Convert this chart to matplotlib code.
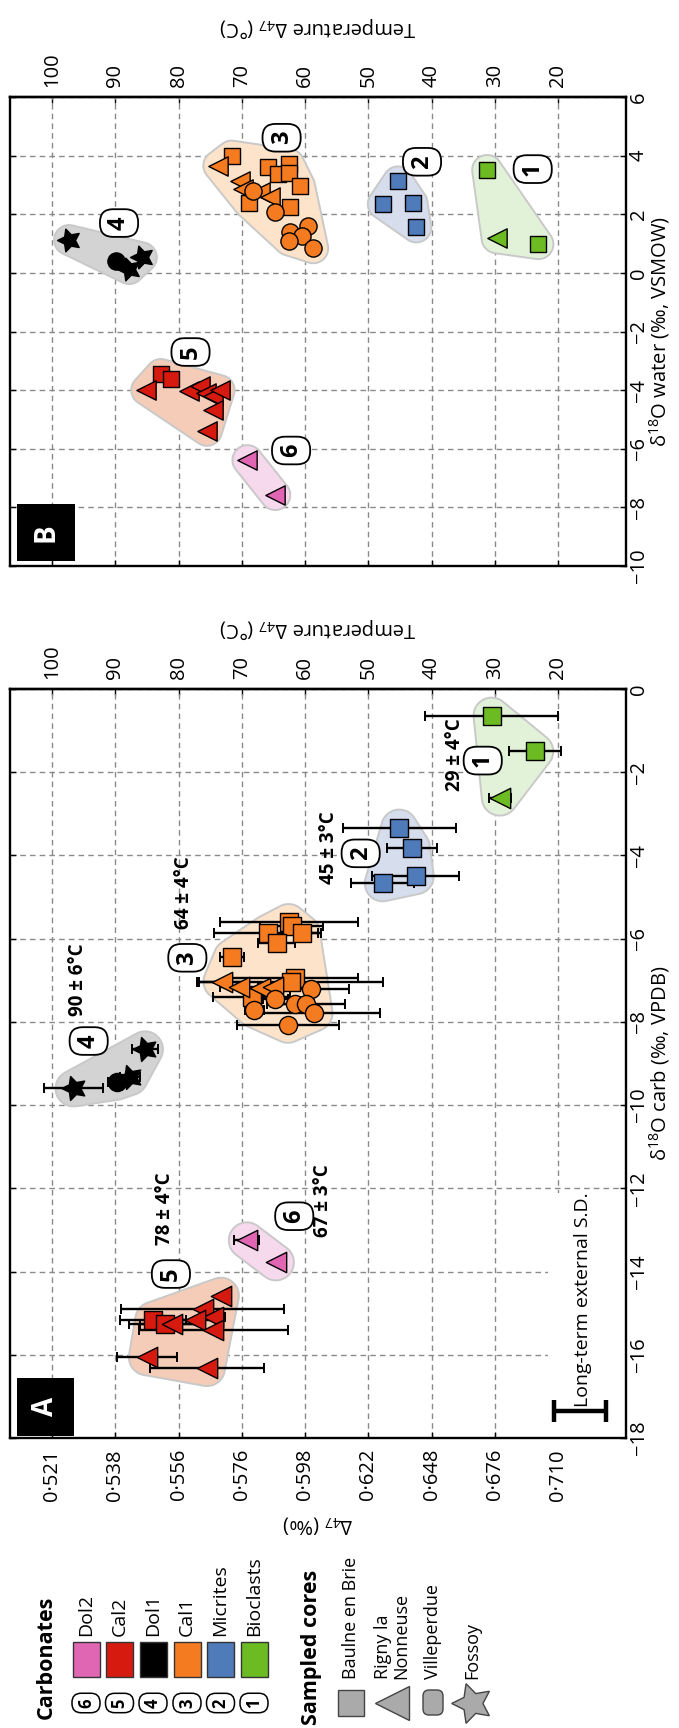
import numpy as np
import matplotlib
matplotlib.use('Agg')
import matplotlib.pyplot as plt
from matplotlib.patches import Polygon, Rectangle, FancyBboxPatch

plt.rcParams['font.family'] = ['Open Sans', 'DejaVu Sans']
plt.rcParams['mathtext.fontset'] = 'custom'
plt.rcParams['mathtext.rm'] = 'Open Sans'
plt.rcParams['mathtext.it'] = 'Open Sans:italic'
plt.rcParams['mathtext.bf'] = 'Open Sans:bold'

# ---- panel A : temperature vs d18O carb (with temperature error) ----
# group: 1 Bioclasts, 2 Micrites, 3 Cal1, 4 Dol1, 5 Cal2, 6 Dol2
# core : B Baulne en Brie, R Rigny la Nonneuse, V Villeperdue, F Fossoy
a_temp = [30.5, 23.6, 29.2,
          45.1, 43.1, 42.5, 47.7,
          62.6, 62.1, 65.9, 60.5, 64.5, 71.6, 61.6, 62.2, 68.4,
          73.2, 70.4, 67.1, 65.0,
          59.1, 64.7, 68.0, 61.6, 59.8, 58.5, 62.7,
          96.6, 87.7, 85.3, 89.8,
          84.0, 82.1, 73.3, 76.2, 74.5, 77.4, 81.1, 74.5, 85.0, 75.5,
          69.2, 64.6]
a_d18o = [-0.64, -1.50, -2.61,
          -3.33, -3.81, -4.50, -4.67,
          -5.60, -5.70, -5.86, -5.86, -6.10, -6.45, -6.95, -7.05, -7.41,
          -7.03, -7.15, -7.19, -7.15,
          -7.20, -7.45, -7.71, -7.57, -7.57, -7.79, -8.07,
          -9.60, -9.33, -8.66, -9.44,
          -15.16, -15.26, -14.58, -14.90, -15.10, -15.16, -15.26, -15.41, -16.06, -16.32,
          -13.25, -13.78]
a_err = [10.5, 4.1, 1.7,
         8.9, 4.0, 6.9, 5.0,
         10.9, 5.0, 8.5, 2.5, 2.9, 1.9, 9.9, 14.6, 6.1,
         3.8, 3.0, 2.0, 2.0,
         6.0, 2.0, 1.5, 3.0, 6.2, 10.3, 8.0,
         4.7, 1.6, 2.1, 1.3,
         5.2, 5.8, 0.0, 12.9, 1.8, 3.4, 5.0, 11.8, 4.7, 9.0,
         2.0, 0.0]
a_group = [1, 1, 1,
           2, 2, 2, 2,
           3, 3, 3, 3, 3, 3, 3, 3, 3,
           3, 3, 3, 3,
           3, 3, 3, 3, 3, 3, 3,
           4, 4, 4, 4,
           5, 5, 5, 5, 5, 5, 5, 5, 5, 5,
           6, 6]
a_core = ['B', 'B', 'R',
          'B', 'B', 'B', 'B',
          'B', 'B', 'B', 'B', 'B', 'B', 'B', 'B', 'B',
          'R', 'R', 'R', 'R',
          'V', 'V', 'V', 'V', 'V', 'V', 'V',
          'F', 'F', 'F', 'V',
          'B', 'B', 'R', 'R', 'R', 'R', 'R', 'R', 'R', 'R',
          'R', 'R']

# ---- panel B : temperature vs d18O water ----
b_temp = [31.2, 23.1, 29.7,
          45.3, 47.7, 43.0, 42.4,
          71.6, 65.9, 62.5, 64.3, 62.5, 60.8, 68.9, 62.4,
          73.7, 70.3, 69.8, 67.1, 65.5,
          68.3, 64.7, 62.4, 59.6, 60.4, 62.5, 58.7,
          97.3, 87.8, 85.8, 89.9,
          82.8, 81.2, 85.1, 78.4, 76.6, 75.7, 74.5, 73.5, 74.6, 75.5,
          69.1, 64.7]
b_d18o = [3.51, 0.98, 1.18,
          3.12, 2.35, 2.38, 1.55,
          4.00, 3.60, 3.71, 3.37, 3.40, 2.97, 2.37, 2.26,
          3.66, 3.14, 2.86, 2.77, 2.58,
          2.78, 2.06, 1.38, 1.59, 1.25, 1.10, 0.84,
          1.12, 0.13, 0.53, 0.39,
          -3.45, -3.62, -4.00, -4.02, -3.85, -4.11, -4.19, -4.00, -4.68, -5.39,
          -6.39, -7.58]
b_group = [1, 1, 1,
           2, 2, 2, 2,
           3, 3, 3, 3, 3, 3, 3, 3,
           3, 3, 3, 3, 3,
           3, 3, 3, 3, 3, 3, 3,
           4, 4, 4, 4,
           5, 5, 5, 5, 5, 5, 5, 5, 5, 5,
           6, 6]
b_core = ['B', 'B', 'R',
          'B', 'B', 'B', 'B',
          'B', 'B', 'B', 'B', 'B', 'B', 'B', 'B',
          'R', 'R', 'R', 'R', 'R',
          'V', 'V', 'V', 'V', 'V', 'V', 'V',
          'F', 'F', 'F', 'V',
          'B', 'B', 'R', 'R', 'R', 'R', 'R', 'R', 'R', 'R',
          'R', 'R']

temp_ticks = [100, 90, 80, 70, 60, 50, 40, 30, 20]
d47_labels = ['0\u00b7521', '0\u00b7538', '0\u00b7556', '0\u00b7576', '0\u00b7598',
              '0\u00b7622', '0\u00b7648', '0\u00b7676', '0\u00b7710']
a_d18o_ticks = [-18, -16, -14, -12, -10, -8, -6, -4, -2, 0]
b_d18o_ticks = [-10, -8, -6, -4, -2, 0, 2, 4, 6]

group_nums = ['1', '2', '3', '4', '5', '6']
group_names = ['Bioclasts', 'Micrites', 'Cal1', 'Dol1', 'Cal2', 'Dol2']
group_colors = ['#6cbb23', '#4f7bba', '#f47b20', '#000000', '#d71a10', '#e066b4']
group_fills = ['#e2f2d8', '#d6ddec', '#fce3c9', '#d3d3d3', '#f4ccb8', '#f6d9ec']
core_codes = ['B', 'R', 'V', 'F']
core_names = ['Baulne en Brie', 'Rigny la\nNonneuse', 'Villeperdue', 'Fossoy']

# group mean temperatures written on panel A
a_mean_txt = ['29 \u00b1 4\u00b0C', '45 \u00b1 3\u00b0C', '64 \u00b1 4\u00b0C',
              '90 \u00b1 6\u00b0C', '78 \u00b1 4\u00b0C', '67 \u00b1 3\u00b0C']

# where the labels sit (layout)
a_num_pos = [(31.9, -1.72), (51.2, -3.95), (78.6, -6.46), (94.2, -8.46), (81.2, -14.06), (61.7, -12.67)]
a_mean_pos = [(36.3, -1.57), (56.2, -3.81), (79.1, -4.90), (95.9, -6.98), (82.2, -12.50), (57.2, -12.29)]
b_num_pos = [(24.0, 3.54), (41.5, 3.79), (63.7, 4.61), (89.4, 1.70), (78.1, -2.70), (62.2, -6.06)]

sd_temp, sd_d18o, sd_half = 16.5, -17.35, 4.1

markers = {'B': 's', 'R': '<', 'V': 'o', 'F': (5, 1, 90)}
msizes = {'B': 150, 'R': 215, 'V': 170, 'F': 330}

FS = 14.5

W, H = 679, 1728
fig = plt.figure(figsize=(W / 100, H / 100), dpi=100)
axA = fig.add_axes([10 / W, 1 - 1438 / H, 616 / W, 749 / H])
axB = fig.add_axes([10 / W, 1 - 566 / H, 616 / W, 469 / H])

xlim = (106.64, 9.25)


def convex_hull(points):
    pts = sorted(set(map(tuple, np.round(points, 3))))

    def cross(o, a, b):
        return (a[0] - o[0]) * (b[1] - o[1]) - (a[1] - o[1]) * (b[0] - o[0])
    lower, upper = [], []
    for p in pts:
        while len(lower) >= 2 and cross(lower[-2], lower[-1], p) <= 0:
            lower.pop()
        lower.append(p)
    for p in reversed(pts):
        while len(upper) >= 2 and cross(upper[-2], upper[-1], p) <= 0:
            upper.pop()
        upper.append(p)
    return np.array(lower[:-1] + upper[:-1])


def blob(ax, t, d, color, r):
    pix = ax.transData.transform(np.column_stack([t, d]))
    ang = np.linspace(0, 2 * np.pi, 48, endpoint=False)
    circ = np.column_stack([np.cos(ang), np.sin(ang)]) * r
    cloud = (pix[:, None, :] + circ[None, :, :]).reshape(-1, 2)
    hull = ax.transData.inverted().transform(convex_hull(cloud))
    ax.add_patch(Polygon(hull, closed=True, fc=color, ec='#c9c9c9', lw=1.4, zorder=1))


def setup(ax, yticks, ylim, ylabel, bottom_labels, top_pad):
    ax.set_xlim(*xlim)
    ax.set_ylim(*ylim)
    ax.set_axisbelow(True)
    ax.grid(True, ls=(0, (4, 3)), color='#8a8a8a', lw=1.0)
    ax.set_xticks(temp_ticks)
    if bottom_labels:
        ax.set_xticklabels(d47_labels, rotation=90)
    else:
        ax.set_xticklabels([])
    ax.set_yticks(yticks, labels=[str(v).replace('-', '\u2212') for v in yticks])
    ax.yaxis.tick_right()
    ax.yaxis.set_label_position('right')
    ax.tick_params(axis='y', which='both', left=True, right=True, direction='in',
                   length=4, width=1, labelsize=FS, pad=2, labelrotation=90)
    ax.tick_params(axis='x', bottom=True, top=False, direction='in', length=4, width=1,
                   labelsize=FS, pad=8)
    for lab in ax.get_yticklabels():
        lab.set_va('center')
    ax.set_ylabel(ylabel, fontsize=FS, labelpad=-1, rotation=90)
    for s in ax.spines.values():
        s.set_linewidth(1.7)
    sec = ax.secondary_xaxis('top')
    sec.set_xticks(temp_ticks, labels=[str(v) for v in temp_ticks])
    sec.tick_params(direction='in', length=4, width=1, labelsize=FS, pad=7, labelrotation=90)
    sec.spines['top'].set_linewidth(1.7)
    sec.set_xlabel('Temperature \u0394$_{47}$ (\u00b0C)', fontsize=FS, rotation=180,
                   labelpad=top_pad)


def draw(ax, temp, d18o, grp, core, err, r, scale):
    temp = np.array(temp)
    d18o = np.array(d18o)
    grp = np.array(grp)
    core = np.array(core)
    for g in range(1, 7):
        m = grp == g
        blob(ax, temp[m], d18o[m], group_fills[g - 1], r)
    if err is not None:
        err = np.array(err)
        m = err > 0
        ax.errorbar(temp[m], d18o[m], xerr=err[m], fmt='none', ecolor='black',
                    elinewidth=1.7, capsize=3.5, capthick=1.4, zorder=3)
    for g in range(1, 7):
        for c in core_codes:
            m = (grp == g) & (core == c)
            if m.any():
                ax.scatter(temp[m], d18o[m], marker=markers[c], s=msizes[c] * scale,
                           c=group_colors[g - 1], edgecolors='black', linewidths=1.0, zorder=4)


def num_box(ax, x, y, s, fs, lw=1.3):
    ax.text(x, y, s, rotation=90, fontsize=fs, fontweight='bold', ha='center',
            va='center', zorder=7,
            bbox=dict(boxstyle='round,pad=0.3,rounding_size=0.55', fc='white',
                      ec='black', lw=lw))


# panel A
setup(axA, a_d18o_ticks, (-18, 0), '\u03b4$^{18}$O carb (\u2030, VPDB)', True, 8)
axA.set_xlabel('\u0394$_{47}$ (\u2030)', fontsize=FS, rotation=180, labelpad=10)
axA.add_patch(Rectangle((0.873, 0), 0.127, 0.327, transform=axA.transAxes,
                        fc='white', ec='none', zorder=0.8))
draw(axA, a_temp, a_d18o, a_group, a_core, a_err, 18, 1.0)
for (t, d), s in zip(a_num_pos, group_nums):
    num_box(axA, t, d, s, 17)
for (t, d), s in zip(a_mean_pos, a_mean_txt):
    axA.text(t, d, s, rotation=90, fontsize=13.5, fontweight='bold', ha='center', va='center', zorder=7)
axA.errorbar([sd_temp], [sd_d18o], xerr=[sd_half], fmt='none', ecolor='black',
             elinewidth=3.2, capsize=8, capthick=3.2, zorder=6)
axA.text(16.1, -14.67, 'Long-term external S.D.', rotation=90, fontsize=14,
         ha='center', va='center', zorder=6)
axA.add_patch(Rectangle((0.0106, 0.003), 0.0925, 0.0774, transform=axA.transAxes,
                        fc='black', ec='none', zorder=8))
axA.text(0.0106 + 0.0925 / 2, 0.003 + 0.0774 / 2, 'A', rotation=90, color='white',
         fontsize=20, fontweight='bold', ha='center', va='center', transform=axA.transAxes, zorder=9)

# panel B
setup(axB, b_d18o_ticks, (-10, 6), '\u03b4$^{18}$O water (\u2030, VSMOW)', False, 14)
draw(axB, b_temp, b_d18o, b_group, b_core, None, 15, 0.9)
for (t, d), s in zip(b_num_pos, group_nums):
    num_box(axB, t, d, s, 17)
axB.add_patch(Rectangle((0.0119, 0.0117), 0.0929, 0.1205, transform=axB.transAxes,
                        fc='black', ec='none', zorder=8))
axB.text(0.0119 + 0.0929 / 2, 0.0117 + 0.1205 / 2, 'B', rotation=90, color='white',
         fontsize=20, fontweight='bold', ha='center', va='center', transform=axB.transAxes, zorder=9)

# legend (pixel coordinates of the bottom strip)
lg = fig.add_axes([0, 0, 1, 188 / H])
lg.set_xlim(0, W)
lg.set_ylim(H, 1540)
lg.axis('off')
lg.text(46.7, 1657, 'Carbonates', rotation=90, fontsize=15.5, fontweight='bold',
        ha='center', va='center')
leg_x = [254, 220.5, 187, 153, 119.5, 86]
for x, n, name, col in zip(leg_x, group_nums, group_names, group_colors):
    num_box(lg, x, 1703, n, 12, lw=1.1)
    lg.add_patch(Rectangle((x - 13.5, 1642), 27, 35, fc=col, ec='#333333', lw=1))
    lg.text(x, 1636, name, rotation=90, fontsize=14, ha='center', va='bottom')
lg.text(311.7, 1647, 'Sampled cores', rotation=90, fontsize=15.5, fontweight='bold',
        ha='center', va='center')
core_x = [350.7, 392, 433, 472]
for x, c, name in zip(core_x, core_codes, core_names):
    if c == 'V':
        lg.add_patch(FancyBboxPatch((x - 10, 1690), 20, 25,
                                    boxstyle='round,pad=0,rounding_size=6',
                                    fc='#aaaaaa', ec='#444444', lw=1))
    else:
        size = {'B': 19, 'R': 25, 'F': 30}[c]
        lg.plot([x], [1703], marker=markers[c], ms=size, mfc='#aaaaaa', mec='#444444', mew=1)
    lg.text(x, 1679, name, rotation=90, fontsize=13, ha='center', va='bottom',
            multialignment='left', linespacing=1.05)

fig.savefig('out.png', dpi=100)
